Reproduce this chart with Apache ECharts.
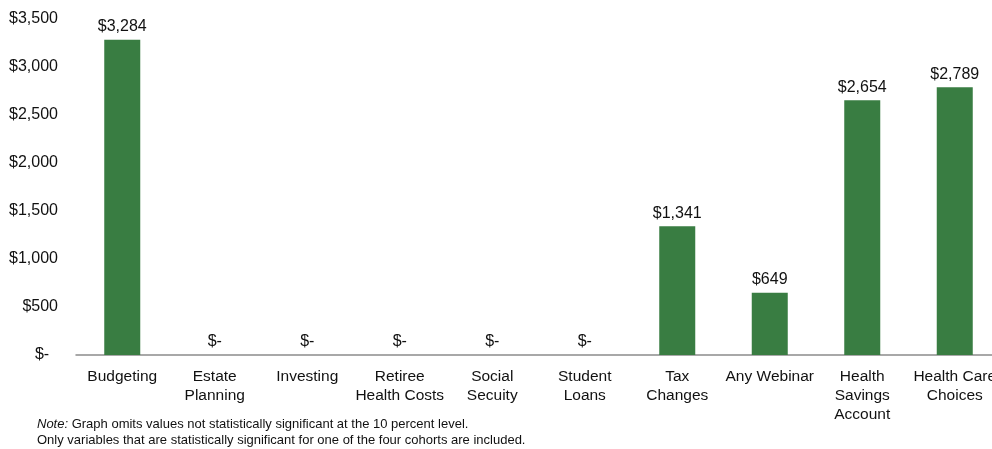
<!DOCTYPE html>
<html><head><meta charset="utf-8">
<script src="https://cdn.jsdelivr.net/npm/echarts@6/dist/echarts.min.js"></script>
<style>html,body{margin:0;padding:0;background:#fff;overflow:hidden;width:992px;height:449px}#c{width:1001px;height:449px}</style>
</head><body><div id="c"></div>
<script>
const categories = ['Budgeting','Estate\nPlanning','Investing','Retiree\nHealth Costs','Social\nSecuity','Student\nLoans','Tax\nChanges','Any Webinar','Health\nSavings\nAccount','Health Care\nChoices'];
const values = [3284, 0, 0, 0, 0, 0, 1341, 649, 2654, 2789];
const yTicks = [0, 500, 1000, 1500, 2000, 2500, 3000, 3500];

const fmt = v => v === 0 ? '$-' : '$' + v.toLocaleString('en-US');
const chart = echarts.init(document.getElementById('c'));
chart.setOption({
  animation: false,
  textStyle: { fontFamily: 'Liberation Sans, Arial, sans-serif' },
  grid: { left: 76, top: 19, right: 0, height: 336, containLabel: false },
  xAxis: {
    type: 'category', data: categories,
    axisLine: { lineStyle: { color: '#8c8c8c', width: 1.5 } },
    axisTick: { show: false },
    axisLabel: { color: '#111', fontSize: 15.5, lineHeight: 19, margin: 12, interval: 0 }
  },
  yAxis: {
    type: 'value', min: yTicks[0], max: yTicks[yTicks.length - 1], interval: 500,
    axisLine: { show: false }, axisTick: { show: false }, splitLine: { show: false },
    axisLabel: { color: '#111', fontSize: 16, margin: 18, formatter: v => v === 0 ? '$-  ' : fmt(v) }
  },
  series: [{
    type: 'bar', data: values, barWidth: 36,
    itemStyle: { color: '#397D42' },
    label: { show: true, position: 'top', distance: 5, color: '#111', fontSize: 16, formatter: p => fmt(p.value) }
  }],
  graphic: [{
    type: 'text', left: 37, top: 416,
    style: {
      text: '{i|Note:} Graph omits values not statistically significant at the 10 percent level.\nOnly variables that are statistically significant for one of the four cohorts are included.',
      fontSize: 13, lineHeight: 16, fill: '#111', fontFamily: 'Liberation Sans, Arial, sans-serif',
      rich: { i: { fontStyle: 'italic', fontSize: 13, fill: '#111', fontFamily: 'Liberation Sans, Arial, sans-serif' } }
    }
  }]
});
</script></body></html>
